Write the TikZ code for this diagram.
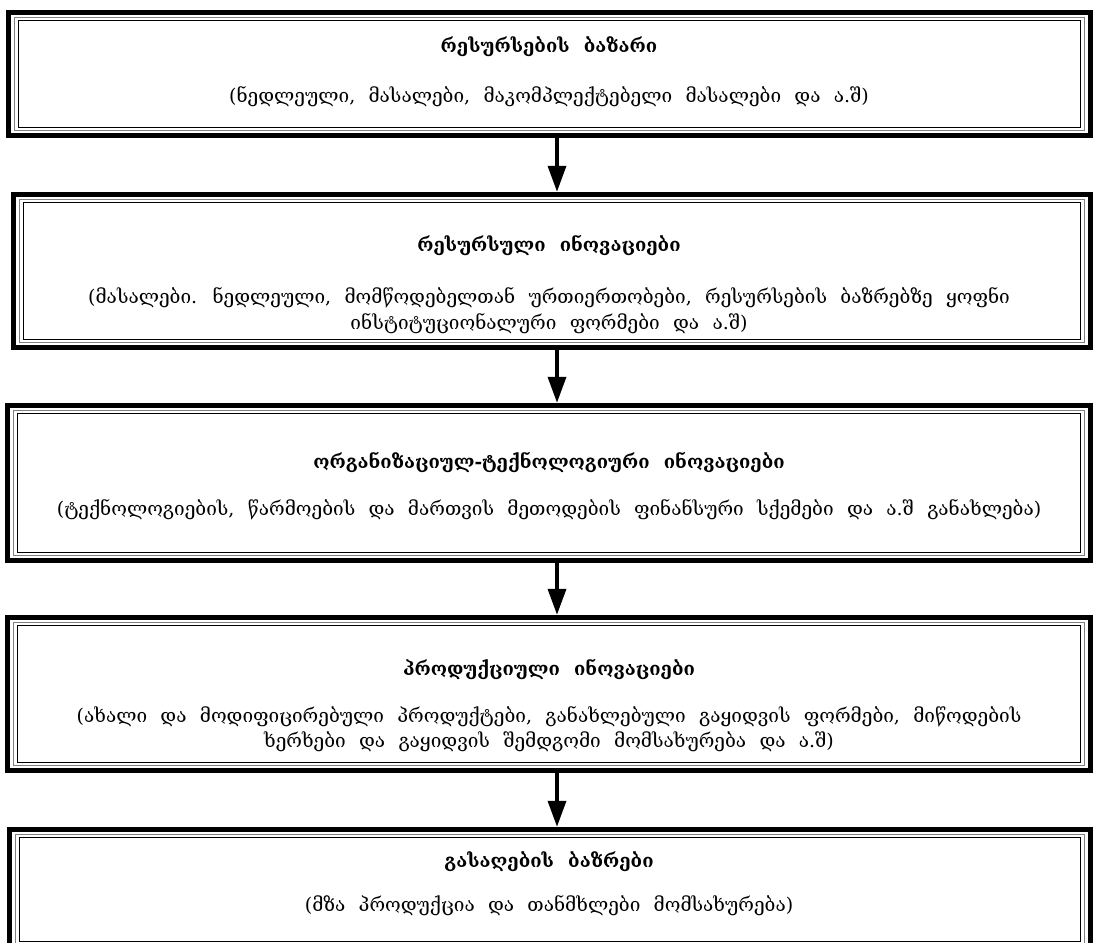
\documentclass[tikz,border=0pt]{standalone}
\usepackage{fontspec}
\setmainfont[WordSpace=2.2]{DejaVu Serif}
\usetikzlibrary{arrows.meta}
\begin{document}
\begin{tikzpicture}[x=1pt,y=1pt,
  box/.style={rectangle, draw=none, inner sep=0pt},
  ttl/.style={font=\fontsize{18.5}{22}\selectfont\bfseries, inner sep=0pt, anchor=center},
  sub/.style={font=\fontsize{19}{25.5}\selectfont, inner sep=0pt, align=center, anchor=center},
  arr/.style={line width=3.5pt, -{Triangle[width=18pt,length=26pt]}}
]
\useasboundingbox (0,0) rectangle (1094,942);
\fill[white] (0,0) rectangle (1094,942);

% boxes
\node[box, minimum width=1087pt, minimum height=128pt] (b1) at (549.5,868) {};
\node[box, minimum width=1082pt, minimum height=158pt] (b2) at (552,671) {};
\node[box, minimum width=1088pt, minimum height=160pt] (b3) at (549,459) {};
\node[box, minimum width=1088pt, minimum height=158pt] (b4) at (549,248) {};
\node[box, minimum width=1086pt, minimum height=125pt] (b5) at (550,52.5) {};

\foreach \b in {b1,b2,b3,b4,b5} {
  \draw[line width=5pt] ([shift={(2.5,-2.5)}]\b.north west) rectangle ([shift={(-2.5,2.5)}]\b.south east);
  \draw[gray, line width=1.2pt] ([shift={(8.5,-7.5)}]\b.north west) rectangle ([shift={(-8.5,7.5)}]\b.south east);
  \draw[line width=1.3pt] ([shift={(12.5,-10.5)}]\b.north west) rectangle ([shift={(-12.5,10.5)}]\b.south east);
}

% texts
\node[ttl] (t1) at (549,895) {რესურსების ბაზარი};
\node[sub] (s1) at (549,845) {(ნედლეული, მასალები, მაკომპლექტებელი მასალები და ა.შ)};

\node[ttl] (t2) at (549,697) {რესურსული ინოვაციები};
\node[sub] (s2) at (549,631.5) {(მასალები. ნედლეული, მომწოდებელთან ურთიერთობები, რესურსების ბაზრებზე ყოფნი\\ინსტიტუციონალური ფორმები და ა.შ)};

\node[ttl] (t3) at (549,480) {ორგანიზაციულ-ტექნოლოგიური ინოვაციები};
\node[sub] (s3) at (549,432) {(ტექნოლოგიების, წარმოების და მართვის მეთოდების ფინანსური სქემები და ა.შ განახლება)};

\node[ttl] (t4) at (549,273) {პროდუქციული ინოვაციები};
\node[sub] (s4) at (549,213) {(ახალი და მოდიფიცირებული პროდუქტები, განახლებული გაყიდვის ფორმები, მიწოდების\\ხერხები და გაყიდვის შემდგომი მომსახურება და ა.შ)};

\node[ttl] (t5) at (549,80) {გასაღების ბაზრები};
\node[sub] (s5) at (549,36) {(მზა პროდუქცია და თანმხლები მომსახურება)};

% arrows
\coordinate (ax) at (557,0);
\draw[arr] (b1.south -| ax) -- (b2.north -| ax);
\draw[arr] (b2.south -| ax) -- (b3.north -| ax);
\draw[arr] (b3.south -| ax) -- (b4.north -| ax);
\draw[arr] (b4.south -| ax) -- (b5.north -| ax);
\end{tikzpicture}
\end{document}
